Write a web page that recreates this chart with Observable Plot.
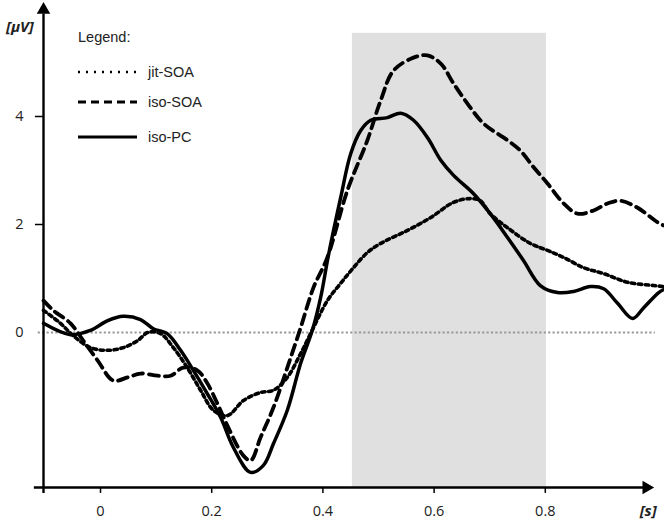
<!DOCTYPE html>
<html>
<head>
<meta charset="utf-8">
<script src="https://cdn.jsdelivr.net/npm/d3@7"></script>
<script src="https://cdn.jsdelivr.net/npm/@observablehq/plot@0.6"></script>
<style>
  html, body { margin: 0; padding: 0; background: #fff; }
  #wrap { position: relative; width: 664px; height: 523px; }
  #legend { position: absolute; left: 0; top: 0; width: 664px; height: 523px; pointer-events: none;
            font-family: "Liberation Sans", Arial, sans-serif; font-size: 14.5px; color: #222; }
  #legend .row { position: absolute; display: flex; align-items: center; }
  #legend svg { margin-right: 10px; }
</style>
</head>
<body>
<div id="wrap"><div id="legend"></div></div>
<script>
// ---- data (time in s, amplitude in µV) ----
const jitT = [-0.1025,-0.072,-0.049,-0.018,0.013,0.041,0.067,0.085,0.108,0.131,0.156,0.18,0.203,0.228,0.257,0.288,0.311,0.336,0.36,0.383,0.408,0.432,0.455,0.48,0.504,0.552,0.594,0.635,0.665,0.683,0.701,0.732,0.773,0.804,0.833,0.869,0.905,0.948,0.995,1.014];
const jitV = [0.41,0.17,-0.06,-0.28,-0.33,-0.28,-0.15,0.0,-0.02,-0.28,-0.65,-1.07,-1.44,-1.54,-1.26,-1.11,-1.07,-0.83,-0.39,0.09,0.59,0.91,1.2,1.48,1.65,1.89,2.13,2.41,2.48,2.44,2.2,1.94,1.65,1.52,1.39,1.2,1.09,0.93,0.87,0.85];

const isoSoaT = [-0.1025,-0.085,-0.054,-0.031,-0.005,0.023,0.049,0.072,0.1025,0.126,0.149,0.174,0.192,0.21,0.228,0.257,0.27,0.288,0.311,0.336,0.36,0.383,0.408,0.444,0.48,0.504,0.527,0.563,0.588,0.612,0.635,0.66,0.689,0.732,0.755,0.779,0.804,0.833,0.858,0.887,0.912,0.935,0.966,1.002,1.014];
const isoSoaV = [0.59,0.41,0.17,-0.15,-0.52,-0.89,-0.83,-0.76,-0.8,-0.8,-0.65,-0.7,-0.94,-1.31,-1.72,-2.28,-2.37,-1.94,-1.39,-0.65,0.09,0.83,1.39,2.63,3.56,4.3,4.85,5.09,5.13,4.98,4.61,4.24,3.87,3.56,3.37,3.06,2.76,2.39,2.2,2.26,2.39,2.44,2.31,2.04,1.98];

const isoPcT = [-0.1025,-0.054,-0.018,0.013,0.041,0.072,0.095,0.12,0.144,0.167,0.192,0.216,0.239,0.27,0.293,0.311,0.336,0.36,0.381,0.396,0.41,0.432,0.45,0.468,0.486,0.516,0.54,0.563,0.588,0.612,0.635,0.671,0.701,0.732,0.761,0.791,0.822,0.851,0.881,0.905,0.93,0.957,0.977,1.004,1.014];
const isoPcV = [0.17,-0.04,0.04,0.22,0.3,0.24,0.07,-0.02,-0.33,-0.7,-1.13,-1.57,-2.13,-2.59,-2.46,-2.06,-1.44,-0.57,0.04,0.65,1.43,2.5,3.31,3.74,3.93,3.98,4.06,3.93,3.61,3.19,2.91,2.57,2.2,1.76,1.33,0.87,0.74,0.76,0.85,0.81,0.54,0.26,0.46,0.74,0.8];

const seriesNames = ["jit-SOA", "iso-SOA", "iso-PC"];
const xTicks = [0, 0.2, 0.4, 0.6, 0.8];
const xTickLabels = ["0", "0.2", "0.4", "0.6", "0.8"];
const yTicks = [0, 2, 4];
const yTickLabels = ["0", "2", "4"];
const shadeStart = 0.453, shadeEnd = 0.802;
const xAxisLabel = "[s]";
const yAxisLabel = "[\u03bcV]";
const legendTitle = "Legend:";

// ---- layout constants (in data units) ----
const X0 = -0.1025;     // y-axis position
const XL = -0.119;      // left end of x axis / y tick start
const XR = 0.989;       // x arrow tip
const Y0 = -2.87;       // x-axis position
const YB = -2.98;       // bottom of ticks
const YT = 6.05;        // y arrow tip
const SHADE_TOP = 5.54;

const toRows = (T, V) => T.map((t, i) => ({t, v: V[i]}));
const jit = toRows(jitT, jitV), isoSoa = toRows(isoSoaT, isoSoaV), isoPc = toRows(isoPcT, isoPcV);

const tickFont = {fontFamily: "'Open Sans', 'Liberation Sans', sans-serif", fontSize: 14.5, fill: "#222"};

const chart = Plot.plot({
  width: 664, height: 523,
  marginTop: 0, marginRight: 0, marginBottom: 0, marginLeft: 0,
  x: {domain: [0, 1], range: [100, 656], axis: null},
  y: {domain: [0, 4], range: [332, 116], axis: null},
  style: {background: "white", overflow: "visible"},
  marks: [
    Plot.rect([{a: shadeStart, b: shadeEnd}], {x1: "a", x2: "b", y1: Y0, y2: SHADE_TOP, fill: "#e0e0e0"}),
    Plot.ruleY([0], {x1: -0.112, x2: 0.998, stroke: "#999", strokeWidth: 2.2, strokeDasharray: "2.2,2.2"}),
    Plot.line(jit, {x: "t", y: "v", stroke: "black", strokeWidth: 3.6, strokeDasharray: "3.4,3.6", curve: "catmull-rom"}),
    Plot.line(isoSoa, {x: "t", y: "v", stroke: "black", strokeWidth: 3.8, strokeDasharray: "10,6", curve: "catmull-rom"}),
    Plot.line(isoPc, {x: "t", y: "v", stroke: "black", strokeWidth: 3.5, curve: "catmull-rom"}),
    // axes
    Plot.ruleX([X0], {y1: YB, y2: YT - 0.15, stroke: "black", strokeWidth: 2.4}),
    Plot.ruleY([Y0], {x1: XL, x2: XR - 0.01, stroke: "black", strokeWidth: 2.4}),
    Plot.dot([{t: X0, v: YT}], {x: "t", y: "v", symbol: "triangle", r: 5, fill: "black", stroke: null, dy: 4}),
    Plot.dot([{t: XR, v: Y0}], {x: "t", y: "v", symbol: "triangle", r: 5, fill: "black", stroke: null, rotate: 90, dx: -4}),
    Plot.ruleX(xTicks, {y1: Y0, y2: YB, stroke: "black", strokeWidth: 1.5}),
    Plot.ruleY(yTicks.filter(d => d !== 0), {x1: XL + 0.002, x2: X0, stroke: "black", strokeWidth: 1.5}),
    Plot.text(xTicks, {x: d => d, y: -3.31, text: (d, i) => xTickLabels[i], ...tickFont}),
    Plot.text(yTicks, {x: -0.146, y: d => d, text: (d, i) => yTickLabels[i], ...tickFont}),
    Plot.text([xAxisLabel], {x: 0.985, y: -3.31, text: d => d, fontWeight: "bold", fontStyle: "italic", fontSize: 15, fontFamily: "'Open Sans', 'Liberation Sans', sans-serif", fill: "#222"}),
    Plot.text([yAxisLabel], {x: -0.145, y: 5.65, text: d => d, fontWeight: "bold", fontStyle: "italic", fontSize: 15, fontFamily: "'Open Sans', 'Liberation Sans', sans-serif", fill: "#222"})
  ]
});
document.getElementById("wrap").prepend(chart);

// ---- legend (HTML overlay) ----
const legend = document.getElementById("legend");
const title = document.createElement("div");
title.className = "row";
title.style.left = "78px"; title.style.top = "29px";
title.textContent = legendTitle;
legend.appendChild(title);
const styles = [
  {dash: "2,6", w: 2.4, cap: "butt", top: 62},
  {dash: "8,5", w: 3, cap: "butt", top: 92},
  {dash: null, w: 3, cap: "butt", top: 127}
];
seriesNames.forEach((name, i) => {
  const s = styles[i];
  const row = document.createElement("div");
  row.className = "row";
  row.style.left = "78px"; row.style.top = s.top + "px"; row.style.height = "20px";
  const svg = d3.create("svg").attr("width", 60).attr("height", 20);
  svg.append("line").attr("x1", 0).attr("x2", 59).attr("y1", 10).attr("y2", 10)
    .attr("stroke", "black").attr("stroke-width", s.w)
    .attr("stroke-dasharray", s.dash).attr("stroke-linecap", s.cap);
  row.appendChild(svg.node());
  const label = document.createElement("span");
  label.textContent = name;
  row.appendChild(label);
  legend.appendChild(row);
});
</script>
</body>
</html>
